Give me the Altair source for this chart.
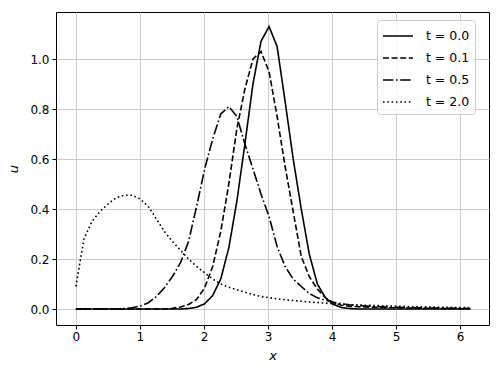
import altair as alt
import pandas as pd

x_vals = [0.000, 0.126, 0.251, 0.377, 0.503, 0.628, 0.754, 0.880, 1.005, 1.131,
          1.257, 1.382, 1.508, 1.634, 1.759, 1.885, 2.011, 2.136, 2.262, 2.388,
          2.513, 2.639, 2.765, 2.890, 3.016, 3.142, 3.267, 3.393, 3.519, 3.644,
          3.770, 3.896, 4.021, 4.147, 4.273, 4.398, 4.524, 4.650, 4.775, 4.901,
          5.027, 5.152, 5.278, 5.404, 5.529, 5.655, 5.781, 5.906, 6.032, 6.158]

u_t00 = [0, 0, 0, 0, 0, 0, 0, 0, 0, 0,
         0, 0, 0, 0, 0.002, 0.007, 0.021, 0.054, 0.12, 0.245,
         0.43, 0.66, 0.90, 1.07, 1.13, 1.05, 0.83, 0.60, 0.40, 0.22,
         0.10, 0.045, 0.018, 0.006, 0.002, 0, 0, 0, 0, 0,
         0, 0, 0, 0, 0, 0, 0, 0, 0, 0]

u_t01 = [0, 0, 0, 0, 0, 0, 0, 0, 0, 0,
         0, 0, 0.003, 0.008, 0.018, 0.038, 0.085, 0.17, 0.31, 0.50,
         0.72, 0.88, 1.00, 1.03, 0.95, 0.77, 0.57, 0.39, 0.21, 0.13,
         0.08, 0.045, 0.025, 0.015, 0.011, 0.009, 0.008, 0.007, 0.006, 0.005,
         0.005, 0.004, 0.004, 0.003, 0.003, 0.002, 0.002, 0.002, 0.001, 0.001]

u_t05 = [0, 0, 0, 0, 0, 0, 0.002, 0.005, 0.012, 0.025,
         0.05, 0.085, 0.13, 0.185, 0.27, 0.41, 0.56, 0.68, 0.78, 0.81,
         0.77, 0.66, 0.56, 0.46, 0.37, 0.25, 0.17, 0.12, 0.09, 0.062,
         0.045, 0.035, 0.027, 0.021, 0.017, 0.014, 0.012, 0.010, 0.009, 0.008,
         0.007, 0.006, 0.005, 0.005, 0.004, 0.004, 0.003, 0.003, 0.003, 0.002]

u_t20 = [0.09, 0.28, 0.35, 0.39, 0.42, 0.445, 0.455, 0.455, 0.44, 0.41,
         0.36, 0.31, 0.27, 0.235, 0.20, 0.17, 0.145, 0.12, 0.10, 0.087,
         0.077, 0.067, 0.058, 0.05, 0.045, 0.041, 0.037, 0.034, 0.031, 0.028,
         0.026, 0.023, 0.021, 0.019, 0.017, 0.016, 0.015, 0.014, 0.013, 0.012,
         0.011, 0.010, 0.009, 0.009, 0.008, 0.007, 0.007, 0.006, 0.006, 0.005]

labels = ["t = 0.0", "t = 0.1", "t = 0.5", "t = 2.0"]
series = [u_t00, u_t01, u_t05, u_t20]
dashes = [[1, 0], [6, 2.6], [10.4, 2.6, 1.6, 2.6], [1.6, 2.7]]
x_ticks = [0, 1, 2, 3, 4, 5, 6]
y_ticks = [0.0, 0.2, 0.4, 0.6, 0.8, 1.0]

rows = []
for lab, ser in zip(labels, series):
    for xv, uv in zip(x_vals, ser):
        rows.append({"x": xv, "u": uv, "series": lab})
df = pd.DataFrame(rows)

FONT = "DejaVu Sans"

chart = alt.Chart(df).mark_line(color="black", strokeWidth=1.6, clip=True).encode(
    x=alt.X("x:Q",
            scale=alt.Scale(domain=[-0.31, 6.45], nice=False, zero=False),
            axis=alt.Axis(values=x_ticks, format="d", title="x",
                          titleFontStyle="italic", titleFontWeight="normal",
                          titleFontSize=13, titleY=24, labelFontSize=12,
                          tickSize=4, labelPadding=2)),
    y=alt.Y("u:Q",
            scale=alt.Scale(domain=[-0.064, 1.188], nice=False, zero=False),
            axis=alt.Axis(values=y_ticks, format=".1f", title="u",
                          titleFontStyle="italic", titleFontWeight="normal",
                          titleFontSize=13, titleX=-36, titleY=156.5,
                          labelFontSize=12, tickSize=4, labelPadding=3)),
    strokeDash=alt.StrokeDash("series:N",
                              scale=alt.Scale(domain=labels, range=dashes),
                              legend=alt.Legend(orient="none", legendX=321, legendY=8,
                                                title=None, symbolType="M-1,0H2",
                                                symbolSize=400, symbolStrokeWidth=1.6,
                                                symbolStrokeColor="black",
                                                labelFont=FONT, labelFontSize=12.5,
                                                labelColor="black", labelOffset=22,
                                                fillColor="rgba(255,255,255,0.8)",
                                                strokeColor="#cccccc", cornerRadius=3,
                                                padding=5, rowPadding=4)),
).properties(
    width=433, height=313,
    autosize=alt.AutoSizeParams(type="none"),
    padding={"left": 48, "top": 4, "right": 4, "bottom": 39},
).configure_view(
    stroke="black", strokeWidth=1
).configure_axis(
    domain=False, grid=True, gridColor="#cccccc", gridWidth=1,
    tickColor="black", labelColor="black", titleColor="black",
    labelFont=FONT, titleFont=FONT
)

chart.save("out.html", embed_options={"renderer": "svg", "actions": False})
